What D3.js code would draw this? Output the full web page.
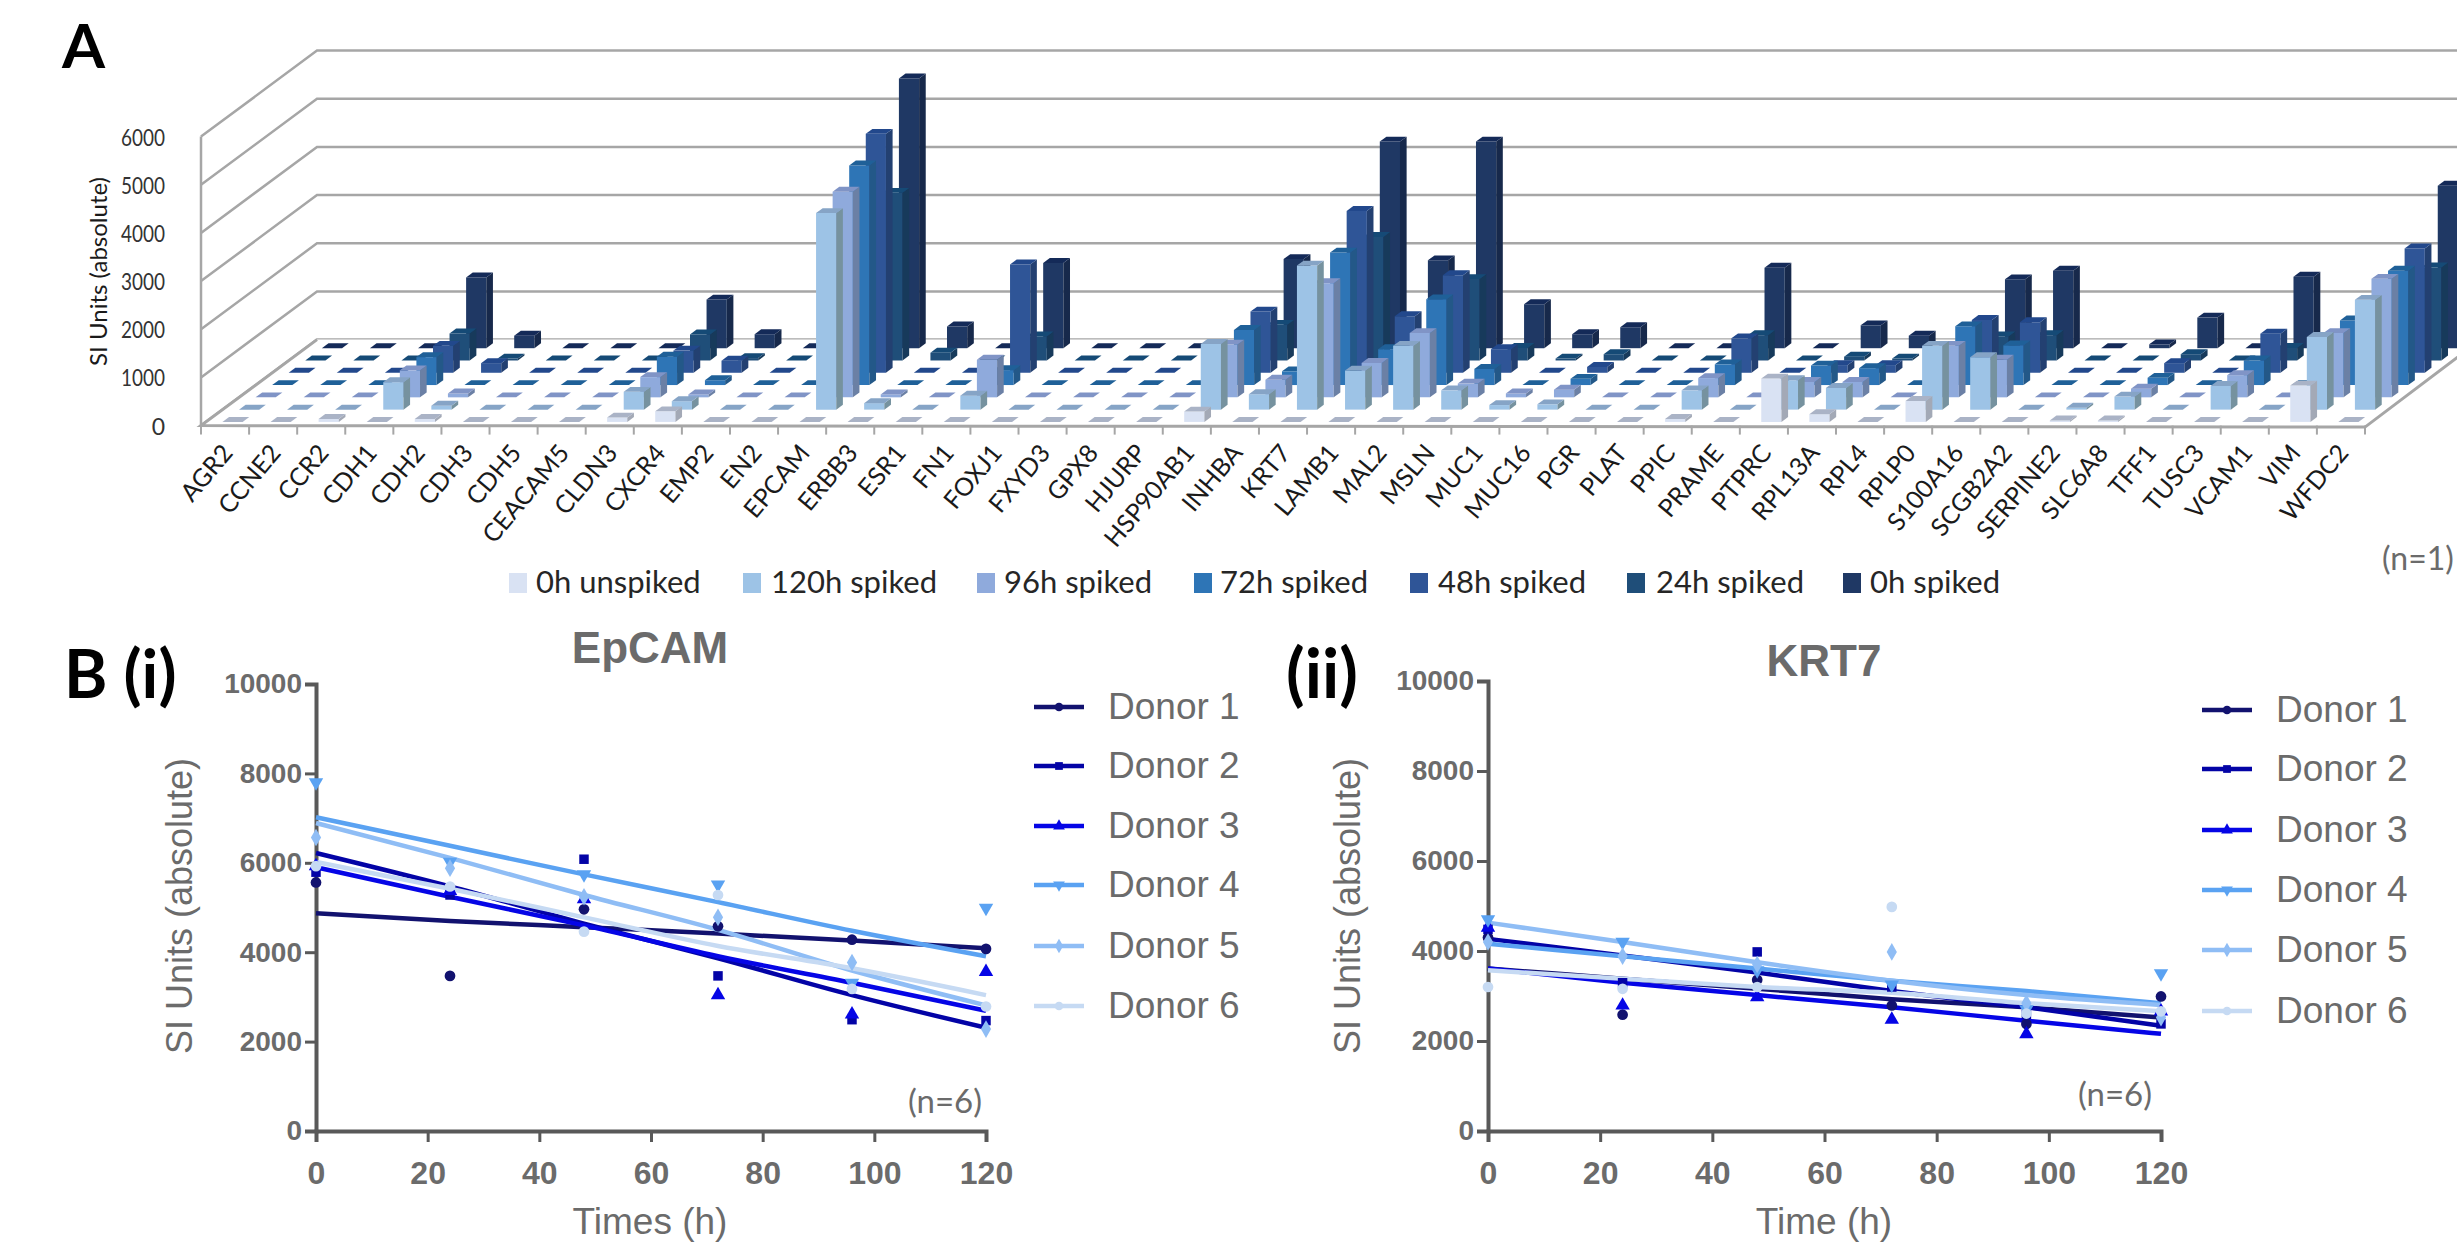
<!DOCTYPE html>
<html>
<head>
<meta charset="utf-8">
<script src="https://cdnjs.cloudflare.com/ajax/libs/d3/7.8.5/d3.min.js"></script>
<style>
  body { margin: 0; background: #fff; }
  svg { display: block; }
  text { font-family: Lato, sans-serif; }
  .sans text, text.sans { font-family: "Liberation Sans", Arial, sans-serif; }
</style>
</head>
<body>
<script>
// Panel A: gene panel, one series per spike time
const genes = ['AGR2','CCNE2','CCR2','CDH1','CDH2','CDH3','CDH5','CEACAM5','CLDN3','CXCR4','EMP2','EN2','EPCAM','ERBB3','ESR1',
  'FN1','FOXJ1','FXYD3','GPX8','HJURP','HSP90AB1','INHBA','KRT7','LAMB1','MAL2','MSLN','MUC1','MUC16','PGR','PLAT',
  'PPIC','PRAME','PTPRC','RPL13A','RPL4','RPLP0','S100A16','SCGB2A2','SERPINE2','SLC6A8','TFF1','TUSC3','VCAM1','VIM','WFDC2'];
const seriesNames = ['0h unspiked','120h spiked','96h spiked','72h spiked','48h spiked','24h spiked','0h spiked'];

const unspiked0h = [0,0,60,0,60, 0,0,0,90,220, 0,0,0,0,0,
  0,0,0,0,0, 215,0,0,0,0, 0,0,0,0,0,
  60,0,900,160,0, 435,0,0,30,30, 0,0,0,755,0];
const spiked120h = [0,0,0,570,80, 0,0,0,370,175, 0,0,4080,135,0,
  290,0,0,0,0, 1365,320,2990,810,1325, 400,95,110,0,0,
  400,0,610,450,0, 1325,1090,0,40,270, 0,490,0,1510,2280];
const spiked96h = [0,0,0,560,80, 0,0,0,420,60, 0,0,4270,60,0,
  780,0,0,0,0, 1095,365,2370,715,1335, 285,80,160,0,0,
  400,0,320,320,0, 1070,780,0,0,180, 0,460,0,1335,2460];
const spiked72h = [0,0,0,580,0, 0,0,0,590,100, 0,0,4560,0,0,
  310,0,0,0,0, 1145,285,2750,745,1780, 335,0,130,0,0,
  430,0,405,350,0, 1220,825,0,0,150, 0,510,0,1340,2375];
const spiked48h = [0,0,0,560,200, 0,0,0,460,250, 0,0,4960,0,0,
  2250,0,0,0,0, 1270,0,3360,1175,2025, 490,0,120,0,0,
  715,0,160,160,0, 1095,1050,0,0,200, 0,810,0,0,2580];
const spiked24h = [0,0,0,560,40, 0,0,0,540,50, 0,0,3480,160,0,
  500,0,0,0,0, 740,0,2565,0,1690, 260,40,130,0,0,
  525,0,80,40,0, 500,525,0,0,130, 0,260,0,0,1930];
const spiked0h = [0,0,0,1470,260, 0,0,0,1010,290, 0,0,5600,450,0,
  1770,0,0,0,0, 1850,0,4290,1825,4290, 915,290,435,0,0,
  1670,0,475,260,0, 1430,1610,0,80,635, 0,1485,0,0,3375];
const seriesValues = [unspiked0h, spiked120h, spiked96h, spiked72h, spiked48h, spiked24h, spiked0h];

const frontColors = ['#d9e2f3','#9dc3e6','#8faadc','#2e75b6','#2f5597','#1f4e79','#1f3864'];
const sideColors = ['#a3a9b6','#76929f','#6b80a5','#235888','#234071','#173a5b','#17294b'];
const topColors = ['#aab3c6','#86a4c6','#8094c6','#1f6098','#22488c','#154a76','#142a58'];

// Panel B: scatter points and fit curves, sampled at the time points
const hours = [0,24,48,72,96,120];
const donors = ['Donor 1','Donor 2','Donor 3','Donor 4','Donor 5','Donor 6'];
const donorColors = ['#12126f','#0303a6','#0505e6','#5aa2f2','#8fbdf5','#c6daf3'];
const donorSymbols = [d3.symbolCircle, d3.symbolSquare, d3.symbolTriangle, d3.symbolTriangle, d3.symbolDiamond, d3.symbolCircle];

const epcamPoints = [
  [5560,3470,4960,4580,4280,4075],
  [5790,5280,6080,3470,2490,2470],
  [5925,5375,5190,3040,2610,3560],
  [7800,6020,5740,5510,3315,4990],
  [6565,5880,5240,4780,3770,2280],
  [5925,5470,4460,5280,3180,2785]
];
const epcamFits = [
  [4870,4700,4560,4420,4260,4090],
  [6220,5470,4640,3865,3040,2310],
  [5900,5240,4600,3910,3315,2690],
  [7020,6380,5740,5120,4480,3910],
  [6890,6110,5280,4500,3590,2810],
  [6020,5420,4780,4140,3640,3040]
];
const krt7Points = [
  [4300,2585,3360,2790,2380,2990],
  [4480,3295,3980,3200,2590,2380],
  [4520,2790,2975,2475,2155,2660],
  [4700,4200,3570,3250,2700,3500],
  [4200,3885,3700,3980,2840,2520],
  [3200,3160,3200,4980,2610,2660]
];
const krt7Fits = [
  [3610,3385,3160,2930,2750,2520],
  [4270,3900,3520,3110,2750,2340],
  [3610,3295,3020,2750,2450,2160],
  [4160,3885,3610,3340,3110,2840],
  [4630,4200,3750,3340,3020,2800],
  [3570,3385,3200,3070,2840,2660]
];

const yTicksA = [0,1000,2000,3000,4000,5000,6000];
const xTicksB = [0,20,40,60,80,100,120];
const yTicksB = [0,2000,4000,6000,8000,10000];

const width = 2457;
const height = 1242;
const svg = d3.select('body').append('svg').attr('width', width).attr('height', height);

function panelLetter(txt, x, y, size) {
  svg.append('text').attr('x', x).attr('y', y)
    .attr('font-size', size).attr('font-weight', 700).attr('fill', '#000')
    .text(txt);
}

function drawBars() {
  const g = svg.append('g');
  const gridColor = '#a6a6a6';
  const x = d3.scaleBand().domain(genes).range([201, 2365]).paddingInner(0.58).paddingOuter(0.29);
  const y = d3.scaleLinear().domain([0, 6000]).range([425.6, 136.6]);
  const depthX = d3.scaleLinear().domain([0, 7]).range([0, 116]);
  const depthY = d3.scaleLinear().domain([0, 7]).range([0, 86]);
  const step = x.step();
  const barShift = 2.5;

  const floorLine = d3.line();
  // walls
  yTicksA.forEach(v => {
    g.append('path').attr('fill', 'none').attr('stroke', gridColor).attr('stroke-width', 2.5)
      .attr('d', floorLine([[201, y(v)], [201 + depthX(7), y(v) - depthY(7)], [width, y(v) - depthY(7)]]));
  });
  g.append('path').attr('fill', 'none').attr('stroke', gridColor).attr('stroke-width', 2.5)
    .attr('d', floorLine([[201, y(0)], [201, y(6000)]]));
  g.append('path').attr('fill', '#fff').attr('stroke', 'none')
    .attr('d', floorLine([[201, y(0)], [201 + depthX(7), y(0) - depthY(7)], [2365 + depthX(7), y(0) - depthY(7)], [2365, y(0)]]) + 'Z');
  g.append('path').attr('fill', 'none').attr('stroke', gridColor).attr('stroke-width', 3)
    .attr('d', floorLine([[201 + depthX(7), y(0) - depthY(7)], [201, y(0)], [2365, y(0) + 1.5], [2365 + depthX(7), y(0) - depthY(7)]]));

  // bars, back row first
  d3.range(seriesValues.length - 1, -1, -1).forEach(r => {
    genes.forEach((gene, i) => {
      const v = seriesValues[r][i];
      const x0 = x(gene) + barShift + depthX(r + 0.3);
      const x1 = x0 + x.bandwidth();
      const yb = y(0) - depthY(r + 0.3);
      const yt = y(v) - depthY(r + 0.3);
      const dx = depthX(0.4);
      const dy = depthY(0.4);
      if (v > 0) {
        g.append('path').attr('fill', frontColors[r])
          .attr('d', floorLine([[x0, yb], [x0, yt], [x1, yt], [x1, yb]]) + 'Z');
        g.append('path').attr('fill', sideColors[r])
          .attr('d', floorLine([[x1, yb], [x1, yt], [x1 + dx, yt - dy], [x1 + dx, yb - dy]]) + 'Z');
      }
      g.append('path').attr('fill', topColors[r])
        .attr('d', floorLine([[x0, yt], [x0 + dx, yt - dy], [x1 + dx, yt - dy], [x1, yt]]) + 'Z');
    });
  });

  // x ticks at the band edges, y labels on the front corner
  d3.range(genes.length + 1).forEach(i => {
    g.append('line').attr('stroke', gridColor).attr('stroke-width', 2)
      .attr('x1', 201 + i * step).attr('x2', 201 + i * step)
      .attr('y1', y(0)).attr('y2', y(0) + 9);
  });
  genes.forEach((gene, i) => {
    const tx = 201 + i * step + 33;
    g.append('text').attr('transform', `translate(${tx},${y(0) + 28}) rotate(-50)`)
      .attr('text-anchor', 'end').attr('font-size', 25).attr('fill', '#1a1a1a')
      .text(gene);
  });
  yTicksA.forEach(v => {
    const label = g.append('text').attr('x', 165).attr('y', y(v) + 9)
      .attr('text-anchor', 'end').attr('font-size', 23).attr('fill', '#333')
      .text(v);
    if (v > 0) label.attr('textLength', 44).attr('lengthAdjust', 'spacingAndGlyphs');
  });
  g.append('text').attr('transform', `translate(107,${y(3200)}) rotate(-90)`)
    .attr('text-anchor', 'middle').attr('font-size', 24).attr('fill', '#1a1a1a')
    .text('SI Units (absolute)');

  // legend
  const swatchX = [509, 743, 977, 1194, 1410, 1627, 1843];
  const labelX = [536, 771, 1004, 1220, 1438, 1656, 1870];
  seriesNames.forEach((name, i) => {
    g.append('rect').attr('x', swatchX[i]).attr('y', 573).attr('width', 18).attr('height', 20)
      .attr('fill', frontColors[i]);
    g.append('text').attr('x', labelX[i]).attr('y', 593)
      .attr('font-size', 31).attr('fill', '#262626').text(name);
  });
  g.append('text').attr('x', 2382).attr('y', 570).attr('font-size', 32).attr('fill', '#6b6b6b').text('(n=1)');
}

function drawDonors(opts) {
  const g = svg.append('g').attr('class', 'sans');
  const axisColor = '#595959';
  const textColor = '#6b6b6b';
  const x = d3.scaleLinear().domain([0, 120]).range(opts.xRange);
  const y = d3.scaleLinear().domain([0, 10000]).range(opts.yRange);

  const line = d3.line().x((d, i) => x(hours[i])).y(d => y(d)).curve(d3.curveMonotoneX);

  const xAxis = g.append('g').attr('transform', `translate(0,${opts.yRange[0]})`)
    .call(d3.axisBottom(x).tickValues(xTicksB).tickFormat(d3.format('d')).tickSize(11).tickPadding(19));
  const yAxis = g.append('g').attr('transform', `translate(${opts.xRange[0]},0)`)
    .call(d3.axisLeft(y).tickValues(yTicksB).tickFormat(d3.format('d')).tickSize(11).tickPadding(3));
  [xAxis, yAxis].forEach((a, n) => {
    a.selectAll('.domain').attr('stroke', axisColor).attr('stroke-width', 4);
    a.selectAll('.tick line').attr('stroke', axisColor).attr('stroke-width', 3);
    a.selectAll('text').attr('font-size', n === 0 ? 32 : 28).attr('font-weight', 700).attr('fill', textColor)
      .style('font-family', '"Liberation Sans", Arial, sans-serif');
  });

  opts.fits.forEach((fit, k) => {
    g.append('path').attr('fill', 'none').attr('stroke', donorColors[k]).attr('stroke-width', 4.5)
      .attr('d', line(fit));
  });
  opts.points.forEach((pts, k) => {
    const flip = k === 3 ? ' rotate(180)' : '';
    const symbol = d3.symbol().type(donorSymbols[k]).size(90);
    g.selectAll(null).data(pts).enter().append('path')
      .attr('d', symbol)
      .attr('fill', donorColors[k])
      .attr('transform', (d, i) => `translate(${x(hours[i])},${y(d)})${flip}`);
  });

  // legend
  const symbolLegend = k => d3.symbol().type(donorSymbols[k]).size(60)();
  donors.forEach((name, k) => {
    const ly = opts.legendY[k];
    g.append('line').attr('x1', opts.legendX).attr('x2', opts.legendX + 50).attr('y1', ly).attr('y2', ly)
      .attr('stroke', donorColors[k]).attr('stroke-width', 4.5);
    g.append('path').attr('d', symbolLegend(k)).attr('fill', donorColors[k])
      .attr('transform', `translate(${opts.legendX + 25},${ly})${k === 3 ? ' rotate(180)' : ''}`);
    g.append('text').attr('x', opts.legendX + 74).attr('y', ly + 12)
      .attr('font-size', 37).attr('fill', textColor).text(name);
  });

  g.append('text').attr('x', opts.titleX).attr('y', opts.titleY).attr('text-anchor', 'middle')
    .attr('font-size', 44).attr('font-weight', 700).attr('fill', textColor).text(opts.title);
  g.append('text').attr('x', opts.titleX).attr('y', 1234).attr('text-anchor', 'middle')
    .attr('font-size', 37).attr('fill', textColor).text(opts.xTitle);
  g.append('text').attr('transform', `translate(${opts.yTitleX},906) rotate(-90)`)
    .attr('text-anchor', 'middle').attr('font-size', 36).attr('fill', textColor).text('SI Units (absolute)');
  g.append('text').attr('x', opts.nX).attr('y', opts.nY).attr('text-anchor', 'middle')
    .attr('font-size', 33).style('font-family', 'Lato, sans-serif').attr('fill', textColor).text('(n=6)');
}

drawBars();
drawDonors({
  title: 'EpCAM', xTitle: 'Times (h)', points: epcamPoints, fits: epcamFits,
  xRange: [316, 986], yRange: [1131, 684], legendX: 1034,
  legendY: [707, 766, 826, 885, 946, 1006],
  titleX: 650, titleY: 663, yTitleX: 192, nX: 945, nY: 1113
});
drawDonors({
  title: 'KRT7', xTitle: 'Time (h)', points: krt7Points, fits: krt7Fits,
  xRange: [1488, 2161], yRange: [1131, 681], legendX: 2202,
  legendY: [710, 769, 830, 890, 950, 1011],
  titleX: 1824, titleY: 676, yTitleX: 1360, nX: 2115, nY: 1106
});
panelLetter('A', 62, 68, 62);
panelLetter('B (i)', 64, 698, 66);
panelLetter('(ii)', 1286, 698, 68);
</script>
</body>
</html>
